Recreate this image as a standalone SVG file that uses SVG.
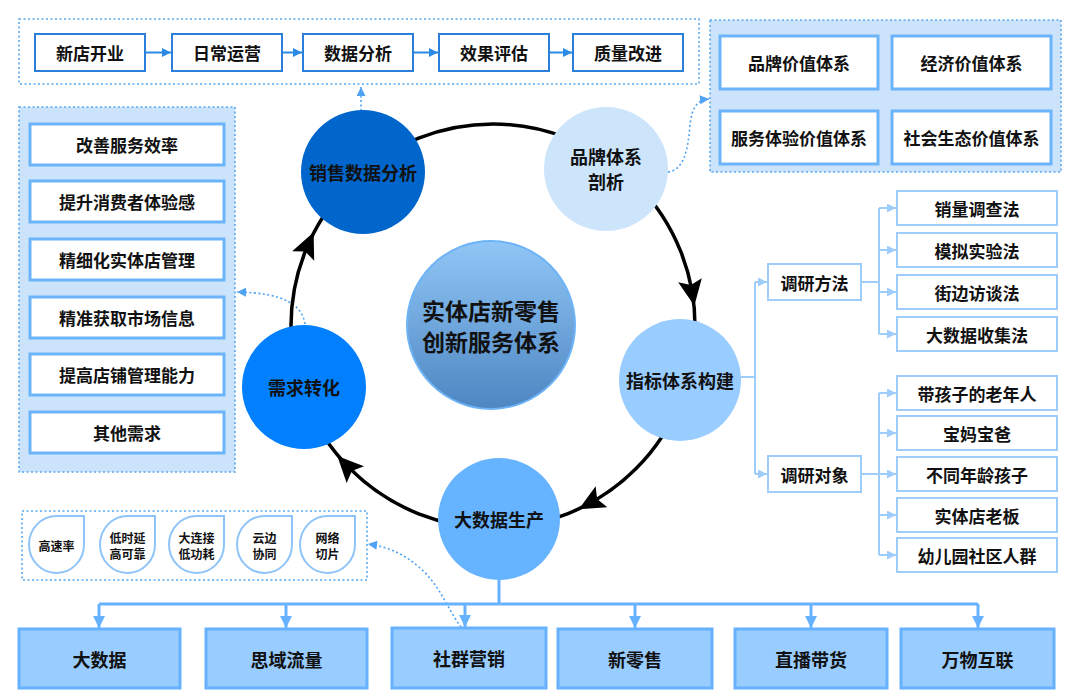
<svg xmlns="http://www.w3.org/2000/svg" width="1080" height="700" viewBox="0 0 1080 700">
<style>
.t{font-family:"Noto Sans CJK SC","Noto Sans",sans-serif;font-weight:bold;fill:#111;text-anchor:middle;dominant-baseline:central}
.f17{font-size:17px}.f18{font-size:18px}.f12{font-size:12px}.f23{font-size:23px}
.pbox{fill:#fff;stroke:#2a80d8;stroke-width:2}
.panel{fill:#cce4fb;stroke:#57a8f2;stroke-width:1.6;stroke-dasharray:2 2.5}
.dpanel{fill:none;stroke:#57a8f2;stroke-width:1.6;stroke-dasharray:2 2.5}
.ibox{fill:#fff;stroke:#6cb4fa;stroke-width:3}
.rbox{fill:#fff;stroke:#9fcdfb;stroke-width:2}
.bbox{fill:#99ccff;stroke:#66b2ff;stroke-width:3}
.leaf{fill:#fff;stroke:#8ec4fa;stroke-width:2}
.ln{fill:none;stroke:#2a8ae6;stroke-width:2}
.lt{fill:none;stroke:#9fcdfb;stroke-width:2}
.lb{fill:none;stroke:#66b2ff;stroke-width:3}
.dot{fill:none;stroke:#4fa3f2;stroke-width:1.6;stroke-dasharray:2 2.5}
.ring{fill:none;stroke:#000;stroke-width:3.5}
.ah{fill:#000}
</style>
<defs>
<marker id="mTop" viewBox="0 0 10 10" refX="10" refY="5" markerWidth="11" markerHeight="9" markerUnits="userSpaceOnUse" orient="auto"><path d="M0,0 L10,5 L0,10 z" fill="#2a8ae6"/></marker>
<marker id="mDot" viewBox="0 0 10 10" refX="10" refY="5" markerWidth="10" markerHeight="9" markerUnits="userSpaceOnUse" orient="auto"><path d="M0,0 L10,5 L0,10 z" fill="#4fa3f2"/></marker>
<marker id="mTree" viewBox="0 0 10 10" refX="10" refY="5" markerWidth="12" markerHeight="9" markerUnits="userSpaceOnUse" orient="auto"><path d="M0,0 L10,5 L0,10 z" fill="#9fcdfb"/></marker>
<marker id="mBot" viewBox="0 0 10 10" refX="10" refY="5" markerWidth="14" markerHeight="12" markerUnits="userSpaceOnUse" orient="auto"><path d="M0,0 L10,5 L0,10 z" fill="#66b2ff"/></marker>
<linearGradient id="gC" x1="0" y1="0" x2="0" y2="1"><stop offset="0" stop-color="#90c6f6"/><stop offset="1" stop-color="#4e86c2"/></linearGradient>
</defs>

<!-- panels -->
<g id="process-panel">
<rect class="dpanel" x="19" y="19" width="680" height="65"/>
</g>
<g id="value-panel">
<rect class="panel" x="710" y="20" width="351" height="152"/>
</g>
<g id="demand-panel">
<rect class="panel" x="19" y="107" width="216" height="365"/>
</g>
<g id="tech-panel">
<rect class="dpanel" x="22" y="511" width="345" height="69"/>
</g>

<!-- connectors -->
<g id="connectors">
<path class="ln" d="M145,52.5 H171" marker-end="url(#mTop)"/>
<path class="ln" d="M282,52.5 H302" marker-end="url(#mTop)"/>
<path class="ln" d="M413,52.5 H438" marker-end="url(#mTop)"/>
<path class="ln" d="M549,52.5 H572" marker-end="url(#mTop)"/>
<path class="dot" d="M361,111 V87" marker-end="url(#mDot)"/>
<path class="dot" d="M668,172 C684,170 688,150 690,125 C692,106 698,100 709,99" marker-end="url(#mDot)"/>
<path class="dot" d="M305,324 C302,305 285,293 237,292" marker-end="url(#mDot)"/>
<path class="dot" d="M461,627 C448,610 440,585 420,568 C405,555 390,547 368,544" marker-end="url(#mDot)"/>
<circle class="ring" cx="493" cy="326" r="202"/>
<polygon class="ah" points="14,0 -12,-12 -7,0 -12,12" transform="translate(692,292) rotate(80.3)"/>
<polygon class="ah" points="14,0 -12,-12 -7,0 -12,12" transform="translate(591,502.5) rotate(150.9)"/>
<polygon class="ah" points="14,0 -12,-12 -7,0 -12,12" transform="translate(347,466) rotate(226.2)"/>
<polygon class="ah" points="14,0 -12,-12 -7,0 -12,12" transform="translate(308,245) rotate(-66.4)"/>
<path class="lt" d="M741,377 H755 M755,282 V474 M861,282 H879 M879,208 V334 M861,474 H879 M879,393 V555"/>
<path class="lt" d="M755,282 H767" marker-end="url(#mTree)"/>
<path class="lt" d="M755,474 H767" marker-end="url(#mTree)"/>
<path class="lt" d="M879,208 H896" marker-end="url(#mTree)"/>
<path class="lt" d="M879,250 H896" marker-end="url(#mTree)"/>
<path class="lt" d="M879,292 H896" marker-end="url(#mTree)"/>
<path class="lt" d="M879,334 H896" marker-end="url(#mTree)"/>
<path class="lt" d="M879,393 H896" marker-end="url(#mTree)"/>
<path class="lt" d="M879,433 H896" marker-end="url(#mTree)"/>
<path class="lt" d="M879,474 H896" marker-end="url(#mTree)"/>
<path class="lt" d="M879,515 H896" marker-end="url(#mTree)"/>
<path class="lt" d="M879,555 H896" marker-end="url(#mTree)"/>
<path class="lb" d="M499,578 V604 M99,604 H978"/>
<path class="lb" d="M99,604 V628" marker-end="url(#mBot)"/>
<path class="lb" d="M286,604 V628" marker-end="url(#mBot)"/>
<path class="lb" d="M465,604 V627" marker-end="url(#mBot)"/>
<path class="lb" d="M635,604 V628" marker-end="url(#mBot)"/>
<path class="lb" d="M811,604 V628" marker-end="url(#mBot)"/>
<path class="lb" d="M978,604 V628" marker-end="url(#mBot)"/>
</g>

<!-- top process -->
<g id="n-xindian"><rect class="pbox" x="35" y="34" width="110" height="37"/><text class="t f17" x="90" y="52.5">新店开业</text></g>
<g id="n-richang"><rect class="pbox" x="172" y="34" width="110" height="37"/><text class="t f17" x="227" y="52.5">日常运营</text></g>
<g id="n-shuju"><rect class="pbox" x="303" y="34" width="110" height="37"/><text class="t f17" x="358" y="52.5">数据分析</text></g>
<g id="n-xiaoguo"><rect class="pbox" x="439" y="34" width="110" height="37"/><text class="t f17" x="494" y="52.5">效果评估</text></g>
<g id="n-zhiliang"><rect class="pbox" x="573" y="34" width="110" height="37"/><text class="t f17" x="628" y="52.5">质量改进</text></g>

<!-- value boxes -->
<g id="n-pinpaijz"><rect class="ibox" x="720" y="36" width="158" height="53"/><text class="t f17" x="799" y="62.5">品牌价值体系</text></g>
<g id="n-jingji"><rect class="ibox" x="892" y="36" width="159" height="53"/><text class="t f17" x="971.5" y="62.5">经济价值体系</text></g>
<g id="n-fuwu"><rect class="ibox" x="720" y="111" width="158" height="53"/><text class="t f17" x="799" y="137.5">服务体验价值体系</text></g>
<g id="n-shehui"><rect class="ibox" x="892" y="111" width="159" height="53"/><text class="t f17" x="971.5" y="137.5">社会生态价值体系</text></g>

<!-- demand boxes -->
<g id="n-d1"><rect class="ibox" x="30" y="124" width="194" height="41"/><text class="t f17" x="127" y="144.5">改善服务效率</text></g>
<g id="n-d2"><rect class="ibox" x="30" y="181" width="194" height="41"/><text class="t f17" x="127" y="201.5">提升消费者体验感</text></g>
<g id="n-d3"><rect class="ibox" x="30" y="239" width="194" height="41"/><text class="t f17" x="127" y="259.5">精细化实体店管理</text></g>
<g id="n-d4"><rect class="ibox" x="30" y="297" width="194" height="41"/><text class="t f17" x="127" y="317.5">精准获取市场信息</text></g>
<g id="n-d5"><rect class="ibox" x="30" y="354" width="194" height="41"/><text class="t f17" x="127" y="374.5">提高店铺管理能力</text></g>
<g id="n-d6"><rect class="ibox" x="30" y="412" width="194" height="41"/><text class="t f17" x="127" y="432.5">其他需求</text></g>

<!-- cycle circles -->
<g id="n-center"><circle cx="491" cy="325" r="84" fill="url(#gC)" stroke="#6db3f7" stroke-width="2"/><text class="t f23" x="491" y="310">实体店新零售</text><text class="t f23" x="491" y="341">创新服务体系</text></g>
<g id="n-xiaoshou"><circle cx="363" cy="172" r="62" fill="#0066cc"/><text class="t f18" x="363" y="172">销售数据分析</text></g>
<g id="n-pinpai"><circle cx="606" cy="169" r="62" fill="#cce5fb"/><text class="t f18" x="606" y="156">品牌体系</text><text class="t f18" x="606" y="181">剖析</text></g>
<g id="n-zhibiao"><circle cx="680" cy="380" r="61" fill="#99ccff"/><text class="t f18" x="680" y="380">指标体系构建</text></g>
<g id="n-xuqiu"><circle cx="304" cy="387" r="62" fill="#0080ff"/><text class="t f18" x="304" y="387">需求转化</text></g>
<g id="n-dashuju"><circle cx="499" cy="519" r="61" fill="#66b3ff"/><text class="t f18" x="499" y="519">大数据生产</text></g>

<!-- research tree -->
<g id="n-fangfa"><rect class="rbox" x="768" y="264" width="93" height="36"/><text class="t f17" x="814.5" y="282">调研方法</text></g>
<g id="n-duixiang"><rect class="rbox" x="768" y="456" width="93" height="36"/><text class="t f17" x="814.5" y="474">调研对象</text></g>
<g id="n-m1"><rect class="rbox" x="897" y="191" width="160" height="34"/><text class="t f17" x="977" y="208">销量调查法</text></g>
<g id="n-m2"><rect class="rbox" x="897" y="233" width="160" height="34"/><text class="t f17" x="977" y="250">模拟实验法</text></g>
<g id="n-m3"><rect class="rbox" x="897" y="275" width="160" height="34"/><text class="t f17" x="977" y="292">街边访谈法</text></g>
<g id="n-m4"><rect class="rbox" x="897" y="317" width="160" height="34"/><text class="t f17" x="977" y="334">大数据收集法</text></g>
<g id="n-o1"><rect class="rbox" x="897" y="376" width="160" height="34"/><text class="t f17" x="977" y="393">带孩子的老年人</text></g>
<g id="n-o2"><rect class="rbox" x="897" y="416" width="160" height="34"/><text class="t f17" x="977" y="433">宝妈宝爸</text></g>
<g id="n-o3"><rect class="rbox" x="897" y="457" width="160" height="34"/><text class="t f17" x="977" y="474">不同年龄孩子</text></g>
<g id="n-o4"><rect class="rbox" x="897" y="498" width="160" height="34"/><text class="t f17" x="977" y="515">实体店老板</text></g>
<g id="n-o5"><rect class="rbox" x="897" y="538" width="160" height="34"/><text class="t f17" x="977" y="555">幼儿园社区人群</text></g>

<!-- tech leaves -->
<g id="n-l1"><path class="leaf" d="M29,544.5 A27.5,28.5 0 0 1 56.5,516 L84,516 L84,544.5 A27.5,28.5 0 0 1 56.5,573 A27.5,28.5 0 0 1 29,544.5 Z"/><text class="t f12" x="56.5" y="545">高速率</text></g>
<g id="n-l2"><path class="leaf" d="M100,544.5 A27.5,28.5 0 0 1 127.5,516 L155,516 L155,544.5 A27.5,28.5 0 0 1 127.5,573 A27.5,28.5 0 0 1 100,544.5 Z"/><text class="t f12" x="127.5" y="537">低时延</text><text class="t f12" x="127.5" y="553">高可靠</text></g>
<g id="n-l3"><path class="leaf" d="M169,544.5 A27.5,28.5 0 0 1 196.5,516 L224,516 L224,544.5 A27.5,28.5 0 0 1 196.5,573 A27.5,28.5 0 0 1 169,544.5 Z"/><text class="t f12" x="196.5" y="537">大连接</text><text class="t f12" x="196.5" y="553">低功耗</text></g>
<g id="n-l4"><path class="leaf" d="M237,544.5 A27.5,28.5 0 0 1 264.5,516 L292,516 L292,544.5 A27.5,28.5 0 0 1 264.5,573 A27.5,28.5 0 0 1 237,544.5 Z"/><text class="t f12" x="264.5" y="537">云边</text><text class="t f12" x="264.5" y="553">协同</text></g>
<g id="n-l5"><path class="leaf" d="M300,544.5 A27.5,28.5 0 0 1 327.5,516 L355,516 L355,544.5 A27.5,28.5 0 0 1 327.5,573 A27.5,28.5 0 0 1 300,544.5 Z"/><text class="t f12" x="327.5" y="537">网络</text><text class="t f12" x="327.5" y="553">切片</text></g>

<!-- bottom boxes -->
<g id="n-b1"><rect class="bbox" x="19" y="629" width="161" height="59"/><text class="t f18" x="99.5" y="658.5">大数据</text></g>
<g id="n-b2"><rect class="bbox" x="206" y="629" width="161" height="59"/><text class="t f18" x="286.5" y="658.5">思域流量</text></g>
<g id="n-b3"><rect class="bbox" x="392" y="628" width="154" height="60"/><text class="t f18" x="469" y="658">社群营销</text></g>
<g id="n-b4"><rect class="bbox" x="558" y="629" width="154" height="59"/><text class="t f18" x="635" y="658.5">新零售</text></g>
<g id="n-b5"><rect class="bbox" x="735" y="629" width="152" height="59"/><text class="t f18" x="811" y="658.5">直播带货</text></g>
<g id="n-b6"><rect class="bbox" x="901" y="629" width="153" height="59"/><text class="t f18" x="977.5" y="658.5">万物互联</text></g>
</svg>
